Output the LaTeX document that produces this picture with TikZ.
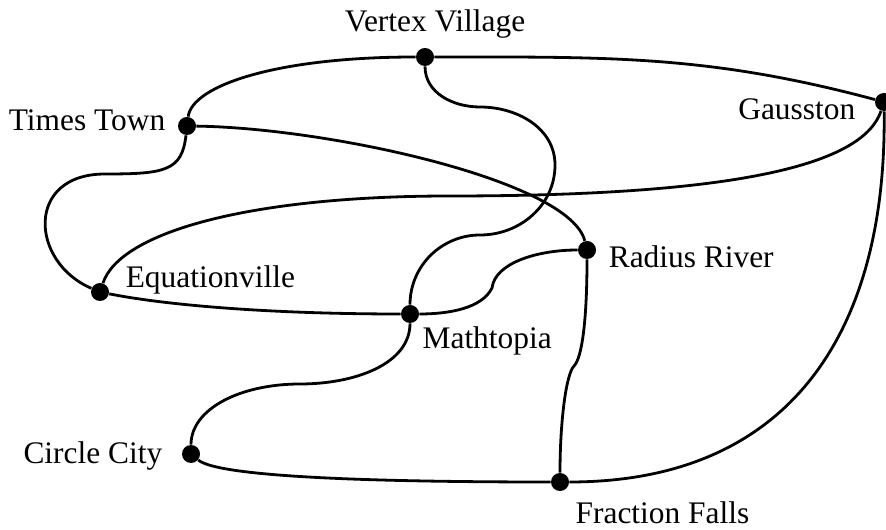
\documentclass[tikz,border=0pt]{standalone}
\usepackage{fontspec}
\setmainfont{Liberation Serif}
\tikzset{
  town/.style={circle, fill=black, inner sep=0pt, minimum size=9pt},
  townname/.style={font=\fontsize{15.7}{18}\selectfont, inner sep=0pt},
  road/.style={line width=1.4pt}
}

\begin{document}
\begin{tikzpicture}[x=0.5pt, y=0.5pt, label distance=0pt, every label/.style={townname}]
  \useasboundingbox (0,0) rectangle (886,529);
  \node[town, label={[xshift=5pt, yshift=4.5pt]above:Vertex Village}] (vv) at (425,472) {};
  \node[town, label={[xshift=-6pt, yshift=3pt]left:Times Town}] (tt) at (187,403) {};
  \node[town, label={[xshift=-9.5pt, yshift=-3.75pt]left:Gausston}] (ga) at (884,427) {};
  \node[town, label={[xshift=6pt, yshift=-3.25pt]right:Radius River}] (rr) at (587,279) {};
  \node[town, label={[xshift=8pt, yshift=6pt]right:Equationville}] (ev) at (100,237) {};
  \node[town, label={[xshift=2.8pt, yshift=-2.8pt]below right:Mathtopia}] (mt) at (410,215) {};
  \node[town, label={[xshift=-9.5pt, yshift=-1pt]left:Circle City}] (cc) at (191,75) {};
  \node[town, label={[xshift=4.3pt, yshift=-6.3pt]below right:Fraction Falls}] (ff) at (560,47) {};

  \coordinate (vvmt1) at (480,422);
  \coordinate (vvmt2) at (555,364);
  \coordinate (vvmt3) at (480,294);
  \coordinate (ttev) at (105,355);
  \coordinate (evga) at (450,333);
  \coordinate (mtrr) at (492,241);
  \coordinate (mtcc) at (300,145);
  \coordinate (rrff) at (574,163);

  \draw[road] (vv) to[out=0, in=165] (ga);
  \draw[road] (tt) .. controls +(5,40) and +(-150,0) .. (vv);
  \draw[road] (tt) .. controls +(143,-2) and +(-17,69) .. (rr);
  \draw[road] (vv) to[out=-90, in=180] (vvmt1) to[out=0, in=90] (vvmt2)
    to[out=-90, in=0] (vvmt3) to[out=180, in=90] (mt);
  \draw[road] (tt) .. controls +(-5,-45) and +(60,0) .. (ttev)
    .. controls +(-80,0) and +(-70,30) .. (ev);
  \draw[road] (ev) .. controls +(20,60) and +(-200,0) .. (evga)
    .. controls +(300,0) and +(-20,-60) .. (ga);
  \draw[road] (ev) .. controls +(60,-12) and +(-150,0) .. (mt);
  \draw[road] (mt) .. controls +(40,0) and +(-10,-20) .. (mtrr)
    .. controls +(3,25) and +(-50,0) .. (rr);
  \draw[road] (mt) .. controls +(0,-50) and +(55,0) .. (mtcc)
    .. controls +(-60,0) and +(0,45) .. (cc);
  \draw[road] (cc) .. controls +(30,-25) and +(-150,0) .. (ff);
  \draw[road] (rr) .. controls +(0,-70) and +(8,8) .. (rrff)
    .. controls +(-8,-8) and +(0,60) .. (ff);
  \draw[road] (ff) .. controls +(230,0) and +(3,-230) .. (ga);
\end{tikzpicture}
\end{document}
